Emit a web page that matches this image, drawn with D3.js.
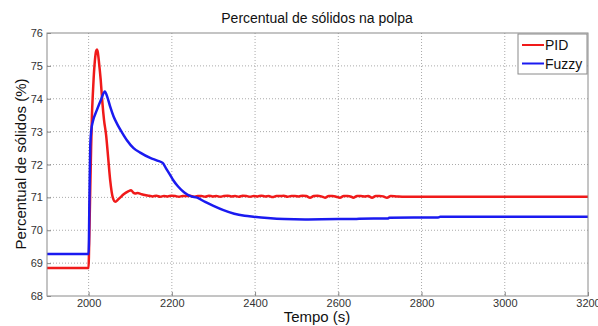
<!DOCTYPE html>
<html lang="pt">
<head>
<meta charset="UTF-8">
<title>Percentual de sólidos na polpa</title>
<style>
    * { margin: 0; padding: 0; }
    body { background: #fff; }
    svg text { font-family: "Liberation Sans", Arial, sans-serif; }
    .tick text { fill: #333; font-size: 11px; }
</style>
</head>
<body>
<svg id="chart" width="598" height="326"></svg>
<script src="https://cdn.jsdelivr.net/npm/d3@7/dist/d3.min.js"></script>
<script>
    // valores
    var pidT = [1900, 2000, 2001, 2004, 2006, 2008, 2010, 2012, 2015, 2018, 2020, 2022, 2025, 2029, 2033, 2037,
        2042, 2047, 2052, 2058, 2064, 2072, 2085, 2095, 2102, 2107, 2112, 2118, 2126, 2135,
        2145, 2154, 2163, 2172, 2181, 2190, 2199, 2208, 2217, 2226, 2235, 2244, 2253, 2262, 2271,
        2280, 2289, 2298, 2307, 2316, 2325, 2334, 2343, 2352, 2361, 2370, 2379, 2388, 2397, 2406,
        2415, 2424, 2433, 2442, 2451, 2460, 2469, 2478, 2487, 2496, 2505, 2514, 2523, 2532, 2541,
        2550, 2559, 2568, 2577, 2586, 2595, 2604, 2613, 2622, 2631, 2636, 2645, 2654, 2663, 2672,
        2681, 2690, 2699, 2708, 2717, 2726, 2740, 2760, 3200];
    var pidV = [68.85, 68.85, 69.4, 71.3, 72.5, 73.5, 74.1, 74.6, 75.15, 75.45, 75.5, 75.42, 75.1, 74.58, 73.9, 73.36,
        72.9, 72.2, 71.5, 71.0, 70.87, 70.95, 71.1, 71.18, 71.22, 71.15, 71.12, 71.13, 71.1, 71.07,
        71.05, 71.03, 71.05, 71.02, 71.04, 71.03, 71.05, 71.04, 71.02, 71.04, 71.04, 71.05, 71.02, 71.04, 71.04,
        71.02, 71.05, 71.03, 71.04, 71.02, 71.04, 71.05, 71.03, 71.04, 71.02, 71.05, 71.04, 71.02, 71.04, 71.03,
        71.05, 71.03, 71.04, 71.01, 71.04, 71.04, 71.05, 71.02, 71.04, 71.04, 71.03, 71.05, 71.04, 70.99, 71.04,
        71.05, 71.03, 70.99, 71.04, 71.04, 71.02, 70.99, 71.04, 71.04, 71.02, 70.99, 71.04, 71.04, 71.03, 71.04,
        70.99, 71.04, 71.04, 71.03, 70.99, 71.04, 71.03, 71.02, 71.02];

    var fuzzyT = [1900, 2000, 2002, 2004, 2007, 2010, 2020, 2030, 2039, 2045, 2052, 2060, 2070, 2080, 2092,
        2108, 2124, 2148, 2165, 2178, 2186, 2195, 2203, 2215, 2230, 2245, 2261, 2280, 2300, 2324,
        2350, 2375, 2396, 2430, 2470, 2520, 2600, 2636, 2650, 2720, 2722, 2840, 2845, 3200];
    var fuzzyV = [69.28, 69.28, 71.0, 72.6, 73.1, 73.3, 73.66, 73.98, 74.22, 74.05, 73.75, 73.46, 73.2, 72.98, 72.74,
        72.5, 72.36, 72.2, 72.12, 72.05, 71.88, 71.7, 71.53, 71.33, 71.15, 71.04, 70.99, 70.86, 70.74, 70.61,
        70.5, 70.44, 70.41, 70.37, 70.34, 70.33, 70.34, 70.34, 70.35, 70.36, 70.38, 70.39, 70.41, 70.41];

    var xTicks = [2000, 2200, 2400, 2600, 2800, 3000, 3200];
    var yTicks = [68, 69, 70, 71, 72, 73, 74, 75, 76];
    var seriesNames = ["PID", "Fuzzy"];
    var seriesColors = ["#f01a1a", "#1a1af0"];

    var svg = d3.select("#chart");
    var pLeft = 47, pRight = 588, pTop = 33, pBottom = 296;

    var x = d3.scaleLinear().domain([1900, 3200]).range([pLeft, pRight]);
    var y = d3.scaleLinear().domain([68, 76]).range([pBottom, pTop]);

    /*grade pontilhada*/
    var grid = svg.append("g");
    grid.selectAll(".gx").data(xTicks.slice(0, -1)).enter().append("line")
        .attr("x1", function (d) { return x(d); }).attr("x2", function (d) { return x(d); })
        .attr("y1", pTop).attr("y2", pBottom)
        .attr("stroke", "#aaa").attr("stroke-dasharray", "1,2");
    grid.selectAll(".gy").data(yTicks.slice(1, -1)).enter().append("line")
        .attr("x1", pLeft).attr("x2", pRight)
        .attr("y1", function (d) { return y(d); }).attr("y2", function (d) { return y(d); })
        .attr("stroke", "#aaa").attr("stroke-dasharray", "1,2");

    /*linhas*/
    var line = d3.line()
        .curve(d3.curveMonotoneX)
        .x(function (d) { return x(d[0]); })
        .y(function (d) { return y(d[1]); });
    var pid = d3.zip(pidT, pidV);
    var fuzzy = d3.zip(fuzzyT, fuzzyV);
    [pid, fuzzy].forEach(function (s, i) {
        svg.append("path").datum(s)
            .attr("d", line)
            .attr("fill", "none")
            .attr("stroke", seriesColors[i])
            .attr("stroke-width", 2.5)
            .attr("stroke-linejoin", "round");
    });

    /*eixos*/
    var xAxis = svg.append("g").attr("transform", "translate(0," + pBottom + ")")
        .call(d3.axisBottom(x).tickValues(xTicks).tickSize(-4).tickPadding(3).tickFormat(d3.format("d")));
    var yAxis = svg.append("g").attr("transform", "translate(" + pLeft + ",0)")
        .call(d3.axisLeft(y).tickValues(yTicks).tickSize(-4).tickPadding(4));
    [xAxis, yAxis].forEach(function (a) {
        a.select(".domain").remove();
        a.selectAll(".tick line").attr("stroke", "#888");
    });
    svg.append("rect")
        .attr("x", pLeft).attr("y", pTop)
        .attr("width", pRight - pLeft).attr("height", pBottom - pTop)
        .attr("fill", "none").attr("stroke", "#8a8a8a");

    /*textos*/
    svg.append("text").attr("x", 317).attr("y", 23)
        .attr("text-anchor", "middle").style("font-size", "14px").attr("fill", "#111")
        .text("Percentual de sólidos na polpa");
    svg.append("text").attr("x", 317).attr("y", 322)
        .attr("text-anchor", "middle").style("font-size", "15px").attr("fill", "#111")
        .text("Tempo (s)");
    svg.append("text")
        .attr("transform", "translate(26,164) rotate(-90)")
        .attr("text-anchor", "middle").style("font-size", "15px").attr("fill", "#111")
        .text("Percentual de sólidos (%)");

    /*legenda*/
    var leg = svg.append("g");
    leg.append("rect").attr("x", 518).attr("y", 34).attr("width", 69).attr("height", 40)
        .attr("fill", "#fff").attr("stroke", "#8a8a8a");
    seriesNames.forEach(function (n, i) {
        var ly = 45 + i * 18.5;
        leg.append("line").attr("x1", 522).attr("x2", 544).attr("y1", ly).attr("y2", ly)
            .attr("stroke", seriesColors[i]).attr("stroke-width", 2);
        leg.append("text").attr("x", 545).attr("y", ly + 5)
            .style("font-size", "14px").attr("fill", "#111").text(n);
    });
</script>
</body>
</html>
